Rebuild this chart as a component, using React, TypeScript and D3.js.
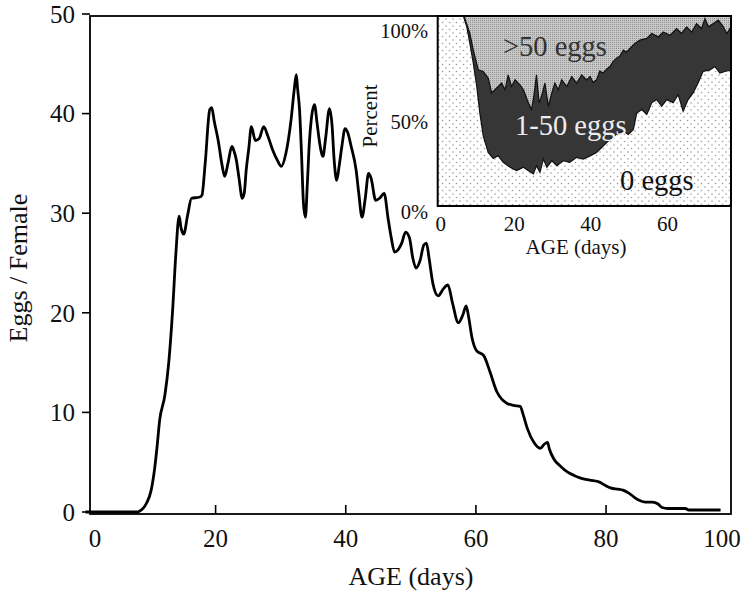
import React from "react";
import * as d3 from "d3";

// Main panel data: age (days) vs eggs per female
const mainAges = [0, 2, 4, 6, 8, 8.2, 9.4, 10.1, 10.6, 11.0, 11.4, 12.2, 12.8, 13.4, 13.9, 14.4, 14.7, 15.1, 15.7, 16.3, 17.5, 17.9, 18.4, 19.1, 19.4, 19.8, 20.4, 21.0, 21.4, 21.9, 22.5, 22.8, 23.2, 23.6, 24.1, 24.4, 24.7, 25.1, 25.5, 26.1, 26.7, 27.4, 28.0, 28.8, 29.5, 30.1, 30.8, 31.6, 32.1, 32.4, 32.6, 32.9, 33.2, 33.5, 33.8, 34.1, 34.4, 34.7, 35.2, 35.6, 36.0, 36.5, 36.9, 37.5, 37.9, 38.2, 38.6, 39.0, 39.4, 39.9, 40.3, 40.8, 41.6, 42.0, 42.5, 43.0, 43.5, 43.9, 44.6, 45.2, 45.9, 46.5, 47.0, 47.5, 48.0, 48.6, 49.2, 49.8, 50.3, 50.8, 51.4, 52.0, 52.4, 52.8, 53.4, 54.2, 55.0, 55.7, 56.4, 57.3, 58.0, 58.5, 58.9, 59.4, 60.1, 61.2, 62.2, 63.2, 64.0, 64.8, 65.8, 66.8, 67.3, 67.9, 68.9, 69.9, 70.5, 71.0, 71.3, 72.0, 73.0, 74.1, 75.0, 76.1, 77.5, 79.0, 79.8, 80.8, 81.8, 82.6, 83.5, 84.3, 85.0, 86.0, 87.1, 88.0, 88.6, 89.5, 92.2, 92.7, 97.6];
const mainEggs = [0, 0, 0, 0, 0, 0.05, 0.9, 2.2, 4.2, 6.5, 9.2, 11.7, 15, 20.3, 26, 29.7, 28.5, 27.9, 29.8, 31.5, 31.6, 31.8, 35, 40.4, 40.6, 39.2, 37.3, 34.8, 33.7, 35, 36.7, 36.3, 35.3, 33.5, 31.5, 32, 34.3, 36.5, 38.7, 37.3, 37.5, 38.7, 37.8, 36.3, 35.3, 34.7, 36, 39.4, 42.5, 43.9, 42.5, 40.4, 36, 31, 29.6, 33, 37, 39.4, 40.9, 39, 37.0, 35.7, 37.5, 40.5, 38.8, 35.5, 33.3, 34.8, 36.7, 38.5, 38.1, 36.8, 34.3, 32, 29.6, 31.5, 34.0, 33.5, 31.3, 31.5, 32.0, 29.5, 27.5, 26.1, 26.3, 27.0, 28.1, 27.5, 25.5, 24.5, 25.2, 26.8, 27.0, 25.5, 22.9, 21.7, 22.4, 22.8, 21, 19.0, 19.8, 20.7, 19.5, 17.5, 16.2, 15.7, 14, 12.1, 11.3, 10.9, 10.7, 10.6, 9.7, 8.4, 7.0, 6.4, 6.8, 7.0, 6.3, 5.3, 4.6, 4.0, 3.7, 3.4, 3.2, 3.0, 2.7, 2.4, 2.3, 2.2, 1.9, 1.5, 1.2, 1.0, 1.0, 0.8, 0.45, 0.35, 0.35, 0.2, 0.2];

const mainXTicks = [20, 40, 60, 80];
const mainXLabels = [0, 20, 40, 60, 80, 100];
const mainYTicks = [0, 10, 20, 30, 40, 50];

// Inset data: percent of females with 0 eggs (lower boundary) and with <=50 eggs (upper boundary)
const zeroAges = [0, 6.7, 7.6, 8.4, 9.3, 10.2, 11.0, 11.9, 13.2, 14.5, 15.8, 17.1, 18.9, 20.6, 22.4, 23.7, 25.0, 25.8, 26.7, 27.6, 28.5, 29.8, 31.1, 32.8, 34.5, 36.3, 38.0, 39.8, 41.5, 43.2, 45.0, 46.7, 48.5, 49.8, 51.1, 52.0, 53.3, 54.6, 55.9, 57.2, 58.5, 59.8, 61.5, 62.8, 64.1, 65.4, 66.7, 68.0, 69.3, 71.1, 72.4, 73.7, 75.0, 76.6];
const zeroPct = [100, 100, 94.3, 85.6, 75.2, 62.9, 49, 36.8, 28.2, 25, 26.4, 23, 20.4, 18.6, 20.4, 18.6, 16.9, 21.2, 17.7, 24.7, 20.4, 23.8, 21.2, 23.8, 23, 25.6, 24.7, 26.4, 28.2, 31.6, 35.1, 37.7, 39.4, 37.7, 40.3, 49, 50.8, 48.2, 54.3, 56, 52.5, 56, 54.3, 58.6, 49.9, 56, 59.5, 64.7, 70.8, 71.6, 73.4, 70, 70.8, 71.6];
const upperAges = [0, 7.0, 7.1, 8.4, 9.3, 10.6, 11.9, 13.2, 14.1, 15.4, 16.7, 17.6, 18.4, 19.3, 20.2, 21.5, 22.4, 23.7, 24.5, 25.1, 25.8, 26.5, 27.1, 28.0, 28.9, 29.8, 30.6, 31.5, 32.4, 33.7, 35.0, 36.3, 37.6, 38.9, 39.8, 40.6, 41.5, 42.3, 43.2, 44.1, 45.0, 45.8, 46.7, 47.6, 48.5, 49.3, 50.2, 51.5, 52.8, 54.6, 55.9, 57.6, 58.9, 60.7, 62.4, 63.7, 65.0, 66.3, 67.6, 68.9, 69.8, 70.7, 72.0, 73.3, 74.6, 75.5, 76.6];
const upperPct = [100, 100, 98.6, 90.8, 82, 71.7, 70.8, 67.3, 59.5, 62.1, 64.7, 61.2, 69, 62.9, 66.4, 63.8, 61.2, 54.2, 50.8, 57.7, 69, 54.3, 57.7, 64.7, 52.5, 59.5, 64.7, 61.2, 66.4, 62.9, 68.1, 64.7, 69, 66.4, 68.2, 65, 66.4, 71, 70, 72, 73.4, 76, 77.8, 79, 82.1, 81, 82.9, 85.6, 87.3, 88.2, 90.8, 89, 91.6, 89.9, 93.4, 90.8, 94.3, 91.6, 96, 93.4, 98.6, 94.3, 96, 97.8, 94.3, 90.8, 94.3];

const insetXLabels = [0, 20, 40, 60];
const insetYLabels = [0, 50, 100];

const FONT = "'Liberation Serif', 'Times New Roman', serif";

export default function App() {
  const W = 750, H = 596;
  // main layout
  const left = 90, right = 731, top = 16, bottom = 514;
  const x = d3.scaleLinear().domain([0.7, 99.2]).range([left, right]);
  const y = d3.scaleLinear().domain([0, 50]).range([512, 14]);

  const mainPts = mainAges.map((a, i) => [a, mainEggs[i]] as [number, number]);
  const mainLine = d3.line<[number, number]>()
    .x(d => x(d[0]))
    .y(d => y(d[1]))
    .curve(d3.curveMonotoneX)(mainPts) || "";

  // inset layout
  const iL = 437.7, iR = 731, iT = 16, iB = 206;
  const ix = d3.scaleLinear().domain([0, 76.6]).range([iL, iR]);
  const iy = d3.scaleLinear().domain([0, 100]).range([iB, iT]);
  const iyLabel = d3.scaleLinear().domain([0, 100]).range([212, 31]);

  const zeroPts = zeroAges.map((a, i) => [a, zeroPct[i]] as [number, number]);
  const upPts = upperAges.map((a, i) => [a, upperPct[i]] as [number, number]);

  const zeroArea = d3.area<[number, number]>()
    .x(d => ix(d[0])).y0(iy(0)).y1(d => iy(d[1]))(zeroPts) || "";
  const topArea = d3.area<[number, number]>()
    .x(d => ix(d[0])).y0(iy(100)).y1(d => iy(d[1]))(upPts) || "";
  const zeroLine = d3.line<[number, number]>().x(d => ix(d[0])).y(d => iy(d[1]))(zeroPts) || "";
  const upLine = d3.line<[number, number]>().x(d => ix(d[0])).y(d => iy(d[1]))(upPts) || "";

  const clampX = (v: number) => Math.min(Math.max(x(v), left + 5), right - 9);

  return (
    <svg width={W} height={H} style={{ position: "absolute", left: 0, top: 0, background: "#fff" }} fontFamily={FONT}>
      <defs>
        <pattern id="dots" width="7" height="7" patternUnits="userSpaceOnUse">
          <rect width="7" height="7" fill="#ffffff" />
          <circle cx="1.5" cy="1.5" r="0.8" fill="#9a9a9a" />
          <circle cx="5" cy="5" r="0.8" fill="#9a9a9a" />
        </pattern>
        <pattern id="fine" width="2" height="2" patternUnits="userSpaceOnUse">
          <rect width="2" height="2" fill="#c8c8c8" />
          <rect width="1" height="1" fill="#909090" />
        </pattern>
        <clipPath id="insetClip">
          <rect x={iL} y={iT} width={iR - iL} height={iB - iT} />
        </clipPath>
      </defs>

      <rect x={0} y={0} width={W} height={H} fill="#fff" />

      {/* main curve */}
      <path d={mainLine} fill="none" stroke="#000" strokeWidth={2.8} strokeLinejoin="round" />

      {/* main frame */}
      <rect x={left} y={top} width={right - left} height={bottom - top} fill="none" stroke="#000" strokeWidth={1.8} />

      {/* x ticks (inward) */}
      {mainXTicks.map(t => (
        <line key={"xt" + t} x1={x(t)} x2={x(t)} y1={bottom} y2={bottom - 9} stroke="#000" strokeWidth={1.6} />
      ))}
      {mainXLabels.map(t => (
        <text key={"xl" + t} x={clampX(t)} y={547} fontSize={25} textAnchor="middle" fill="#111">{t}</text>
      ))}
      {/* y ticks (outward) */}
      {mainYTicks.map(t => (
        <g key={"yt" + t}>
          <line x1={left - 8} x2={left} y1={y(t)} y2={y(t)} stroke="#000" strokeWidth={1.6} />
          <text x={75} y={y(t)} dy="0.35em" fontSize={25} textAnchor="end" fill="#111">{t}</text>
        </g>
      ))}
      <text x={411} y={585} fontSize={26} textAnchor="middle" fill="#111">AGE (days)</text>
      <text transform="translate(27,268) rotate(-90)" fontSize={26} textAnchor="middle" fill="#111">Eggs / Female</text>

      {/* inset */}
      <g clipPath="url(#insetClip)">
        <rect x={iL} y={iT} width={iR - iL} height={iB - iT} fill="#363636" />
        <path d={zeroArea} fill="url(#dots)" />
        <path d={topArea} fill="url(#fine)" />
        <path d={zeroLine} fill="none" stroke="#111" strokeWidth={1.2} />
        <path d={upLine} fill="none" stroke="#111" strokeWidth={1.2} />
      </g>
      <rect x={iL} y={iT} width={iR - iL} height={iB - iT} fill="none" stroke="#000" strokeWidth={2} />

      <text x={503} y={56} fontSize={28.5} fill="#333">&gt;50 eggs</text>
      <text x={515} y={135} fontSize={28.5} fill="#ececec">1-50 eggs</text>
      <text x={620} y={190} fontSize={28.5} fill="#111">0 eggs</text>

      {insetXLabels.map(t => (
        <text key={"ixl" + t} x={Math.max(ix(t), iL + 3)} y={231} fontSize={21} textAnchor="middle" fill="#111">{t}</text>
      ))}
      {insetYLabels.map(t => (
        <text key={"iyl" + t} x={428} y={iyLabel(t)} dy="0.35em" fontSize={20.5} textAnchor="end" fill="#111">{t}%</text>
      ))}
      <text x={576} y={254} fontSize={21} textAnchor="middle" fill="#111">AGE (days)</text>
      <text transform="translate(377,116) rotate(-90)" fontSize={21} textAnchor="middle" fill="#111">Percent</text>
    </svg>
  );
}
